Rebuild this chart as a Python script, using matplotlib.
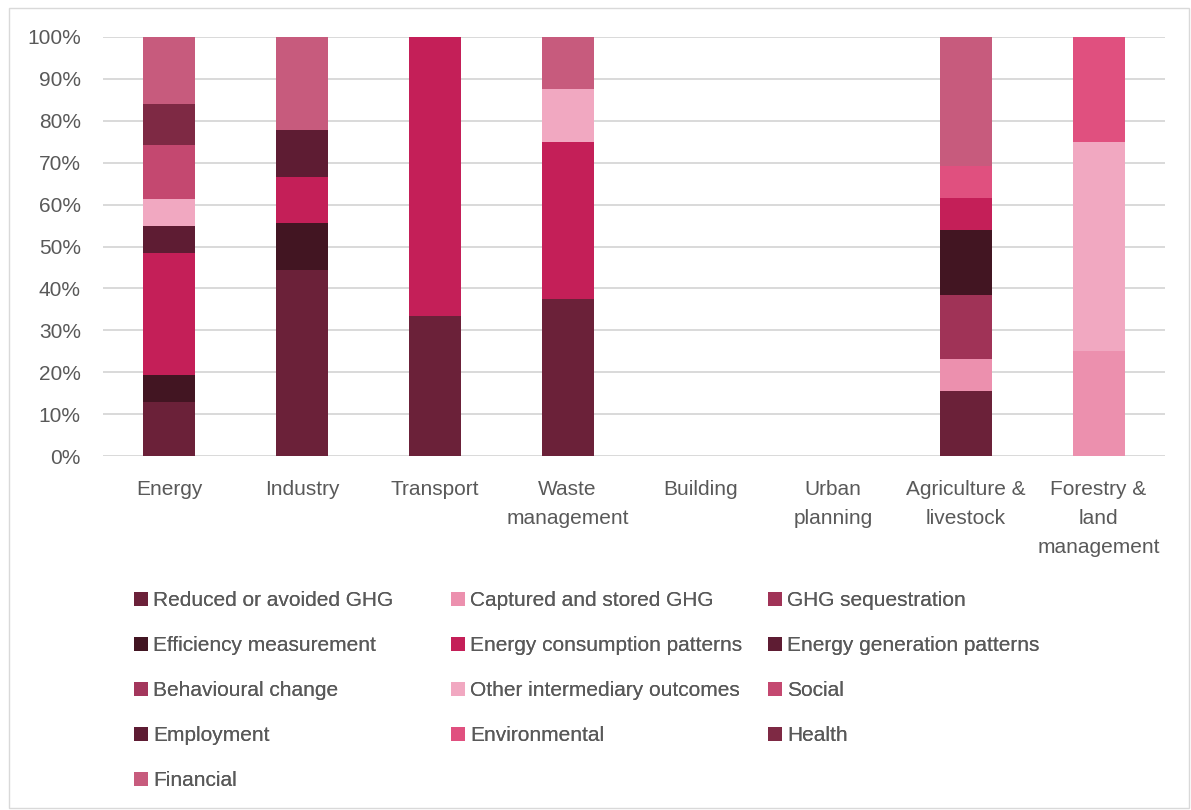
import matplotlib
matplotlib.use("Agg")
import matplotlib.pyplot as plt
from matplotlib.patches import Patch, Rectangle
import numpy as np

categories = ["Energy", "Industry", "Transport", "Waste\nmanagement", "Building",
              "Urban\nplanning", "Agriculture &\nlivestock", "Forestry &\nland\nmanagement"]

series_names = ["Reduced or avoided GHG", "Captured and stored GHG", "GHG sequestration",
                "Efficiency measurement", "Energy consumption patterns", "Energy generation patterns",
                "Behavioural change", "Other intermediary outcomes", "Social",
                "Employment", "Environmental", "Health", "Financial"]

reduced     = [12.9, 44.4, 33.3, 37.5, 0, 0, 15.4, 0]
captured    = [0, 0, 0, 0, 0, 0, 7.7, 25.0]
sequest     = [0, 0, 0, 0, 0, 0, 15.4, 0]
efficiency  = [6.5, 11.1, 0, 0, 0, 0, 15.4, 0]
consumption = [29.0, 11.1, 66.7, 37.5, 0, 0, 7.7, 0]
generation  = [6.5, 11.1, 0, 0, 0, 0, 0, 0]
behavioural = [0, 0, 0, 0, 0, 0, 0, 0]
other_inter = [6.4, 0, 0, 12.5, 0, 0, 0, 50.0]
social      = [12.9, 0, 0, 0, 0, 0, 0, 0]
employment  = [0, 0, 0, 0, 0, 0, 0, 0]
environment = [0, 0, 0, 0, 0, 0, 7.7, 25.0]
health      = [9.7, 0, 0, 0, 0, 0, 0, 0]
financial   = [16.1, 22.3, 0, 12.5, 0, 0, 30.7, 0]

series_values = [reduced, captured, sequest, efficiency, consumption, generation,
                 behavioural, other_inter, social, employment, environment, health, financial]

colors = ["#6B2139", "#EC90AE", "#A03357", "#421522", "#C41F58", "#5E1C33",
          "#A3365C", "#F1A8C1", "#C44870", "#5E1C33", "#E0507F", "#7E2944", "#C75B7D"]

yticks = [0, 10, 20, 30, 40, 50, 60, 70, 80, 90, 100]
ytick_labels = [f"{v}%" for v in yticks]

plt.rcParams['font.family'] = ['Liberation Sans', 'DejaVu Sans']
txt_color = "#595959"
fs = 15

W, H = 1191, 810
fig = plt.figure(figsize=(W / 100, H / 100), dpi=100)
ax = fig.add_axes([103 / W, 1 - 456 / H, (1165 - 103) / W, (456 - 37) / H])

x = np.arange(len(categories))
bottom = np.zeros(len(categories))
for name, vals, c in zip(series_names, series_values, colors):
    vals = np.array(vals, dtype=float)
    ax.bar(x, vals, width=0.39, bottom=bottom, color=c, label=name, linewidth=0, zorder=3)
    bottom += vals

ax.set_xlim(-0.5, len(categories) - 0.5)
ax.set_ylim(0, 100)
ax.set_yticks(yticks)
ax.set_yticklabels(ytick_labels)
ax.set_xticks(x)
ax.set_xticklabels(categories, linespacing=1.68)
ax.tick_params(axis='y', length=0, pad=16, labelsize=fs, labelcolor=txt_color)
ax.tick_params(axis='x', length=0, pad=17, labelsize=fs, labelcolor=txt_color)
ax.yaxis.grid(True, color="#D9D9D9", linewidth=1.4, zorder=0)
ax.set_axisbelow(True)
for s in ax.spines.values():
    s.set_visible(False)

# legend in three columns (row-wise order as in the reference)
col_x = [134, 451, 768]
handles = [Patch(facecolor=c, edgecolor='none') for c in colors]
for ci in range(3):
    idx = list(range(ci, len(series_names), 3))
    leg = fig.legend([handles[i] for i in idx], [series_names[i] for i in idx],
                     loc='upper left', bbox_to_anchor=(col_x[ci] / W, 1 - 591 / H),
                     frameon=False, fontsize=fs, labelcolor=txt_color,
                     handlelength=0.67, handleheight=0.67, handletextpad=0.25,
                     labelspacing=1.25, borderpad=0, borderaxespad=0)
    fig.add_artist(leg)

fig.patches.append(Rectangle((9 / W, 2 / H), (1189 - 9) / W, (802 - 2) / H,
                             transform=fig.transFigure, fill=False,
                             edgecolor="#D9D9D9", linewidth=1))

fig.savefig("out.png", dpi=100)
